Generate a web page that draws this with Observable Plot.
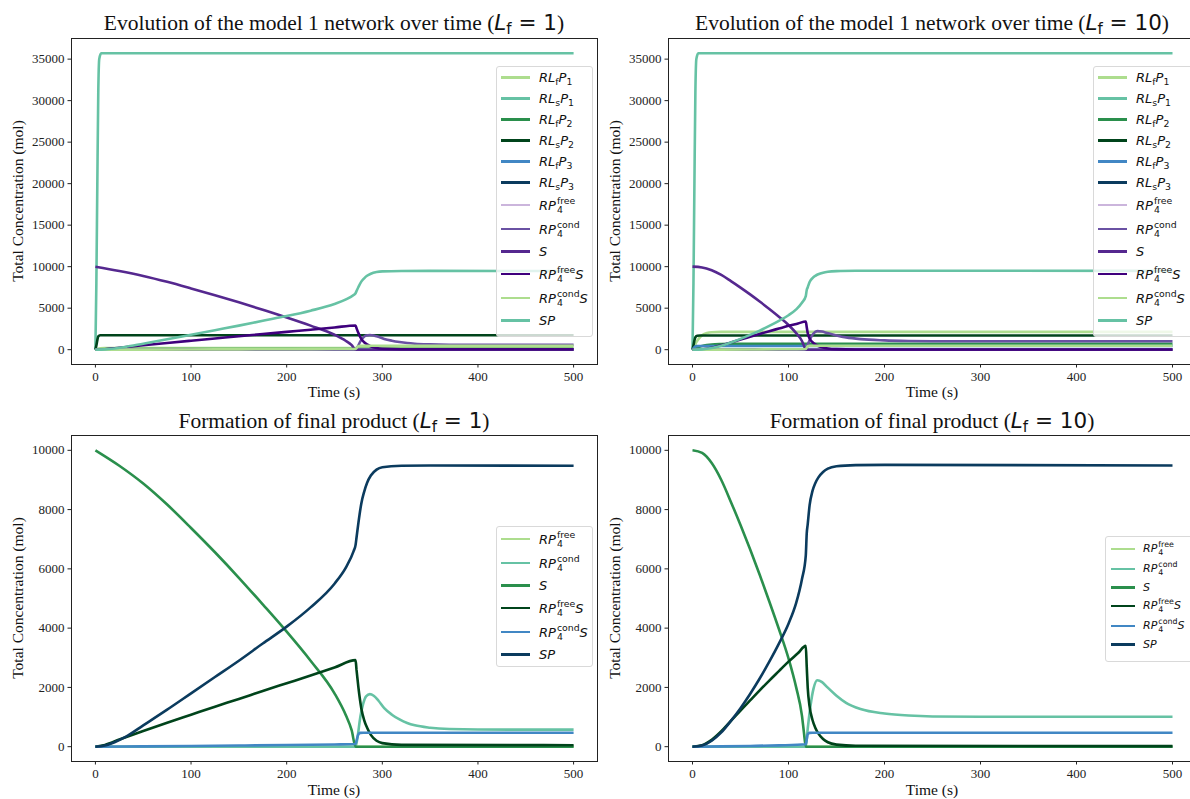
<!DOCTYPE html>
<html><head><meta charset="utf-8">
<script src="https://cdn.jsdelivr.net/npm/d3@7"></script>
<script src="https://cdn.jsdelivr.net/npm/@observablehq/plot@0.6"></script>
<style>
body{margin:0;background:#fff;overflow:hidden}
#root{position:relative;width:1190px;height:799px;overflow:hidden;background:#fff}
.panel{position:absolute;width:600px}
.panel svg{max-width:none !important}
.title{position:absolute;font-family:"Liberation Serif",serif;font-size:21.5px;white-space:nowrap;transform:translateX(-50%);line-height:1;color:#111}
.m{font-family:"DejaVu Sans",sans-serif}
.m sub{font-size:0.7em;vertical-align:-0.25em;line-height:0}
.xl{position:absolute;font-family:"Liberation Serif",serif;font-size:15.5px;transform:translate(-50%,-50%);white-space:nowrap;color:#111}
.yl{position:absolute;font-family:"Liberation Serif",serif;font-size:15.5px;transform:translate(-50%,-50%) rotate(-90deg);white-space:nowrap;color:#111}
.lg{position:absolute;border:1px solid #d9d9d9;border-radius:3px;background:rgba(255,255,255,0.8);font-family:"DejaVu Sans",sans-serif;color:#111;box-sizing:border-box}
.row{display:flex;align-items:center;white-space:nowrap}
.sw{flex:none}
.lg i{font-style:italic}
.lg sub{font-size:0.72em;vertical-align:-0.3em;line-height:0}
.ss{display:inline-flex;flex-direction:column;align-items:flex-start;font-size:0.72em;line-height:1;vertical-align:0.62em;margin-left:1px}
</style>
</head><body><div id="root"></div>
<script>
// ---------- axis ticks ----------
const xTicks = [0, 100, 200, 300, 400, 500];
const yTicksTop = [0, 5000, 10000, 15000, 20000, 25000, 30000, 35000];
const yTicksBottom = [0, 2000, 4000, 6000, 8000, 10000];

// ---------- colours ----------
const colorsTop = ["#addd8e","#66c2a4","#2a8f4c","#00441b","#4187c4","#0b3b5e","#cbb5dc","#6a51a3","#55288f","#3f007d","#addd8e","#66c2a4"];
const colorsBottom = ["#addd8e","#66c2a4","#2a8f4c","#00441b","#4187c4","#0b3b5e"];

// ---------- legend labels ----------
const labelsTop = [
  '<i>RL</i><sub>f</sub><i>P</i><sub>1</sub>',
  '<i>RL</i><sub>s</sub><i>P</i><sub>1</sub>',
  '<i>RL</i><sub>f</sub><i>P</i><sub>2</sub>',
  '<i>RL</i><sub>s</sub><i>P</i><sub>2</sub>',
  '<i>RL</i><sub>f</sub><i>P</i><sub>3</sub>',
  '<i>RL</i><sub>s</sub><i>P</i><sub>3</sub>',
  '<i>RP</i><span class="ss"><span>free</span><span>4</span></span>',
  '<i>RP</i><span class="ss"><span>cond</span><span>4</span></span>',
  '<i>S</i>',
  '<i>RP</i><span class="ss"><span>free</span><span>4</span></span><i>S</i>',
  '<i>RP</i><span class="ss"><span>cond</span><span>4</span></span><i>S</i>',
  '<i>SP</i>'
];
const tallTop = [0,0,0,0,0,0,1,1,0,1,1,0];
const labelsBottom = labelsTop.slice(6);
const tallBottom = [1,1,0,1,1,0];

// ---------- data, L_f = 1 : [time (s), total concentration (mol)] ----------
const RLfP1_lf1 = [[0,0],[2,100],[5,180],[10,200],[500,200]];
const RLsP1_lf1 = [[0,0],[1,8000],[2,20000],[3,31000],[4,35000],[6,35700],[500,35700]];
const RLfP2_lf1 = [[0,0],[5,40],[15,65],[30,70],[500,70]];
const RLsP2_lf1 = [[0,0],[1,500],[2,1150],[3,1600],[5,1730],[8,1740],[500,1740]];
const RLfP3_lf1 = [[0,0],[3,40],[6,45],[500,45]];
const RLsP3_lf1 = [[0,0],[5,15],[500,15]];
const RP4free_lf1 = [[0,0],[500,0]];
const RP4cond_lf1 = [[0,0],[272,0],[274,300],[277,1000],[280,1450],[283,1700],[287,1775],[291,1720],[296,1550],[302,1300],[310,1080],[318,920],[326,800],[334,720],[350,640],[370,595],[400,578],[500,575]];
const S_lf1 = [[0,10000],[25,9480],[50,8880],[75,8170],[100,7380],[125,6560],[150,5700],[175,4800],[200,3880],[225,2900],[250,1800],[262,1050],[268,550],[272,0],[500,0]];
const RP4freeS_lf1 = [[0,0],[10,60],[25,240],[50,530],[75,810],[100,1080],[125,1350],[150,1610],[175,1880],[200,2140],[225,2400],[250,2670],[272,2920],[273,2600],[275,2000],[278,1300],[281,900],[284,650],[288,400],[294,200],[300,120],[320,60],[500,50]];
const RP4condS_lf1 = [[0,0],[50,10],[100,25],[150,40],[200,55],[250,75],[272,90],[273,200],[275,420],[277,465],[280,470],[500,470]];
const SP_lf1 = [[0,0],[10,40],[20,150],[31,320],[50,720],[75,1250],[100,1800],[125,2350],[150,2900],[175,3480],[200,4050],[225,4700],[250,5500],[262,6050],[270,6600],[272,6800],[273,7050],[275,7550],[278,8200],[281,8600],[284,8900],[288,9150],[294,9350],[300,9430],[320,9480],[350,9490],[500,9480]];

// ---------- data, L_f = 10 ----------
const RLfP1_lf10 = [[0,0],[2,400],[4,900],[7,1400],[10,1750],[15,2000],[20,2100],[30,2150],[500,2150]];
const RLsP1_lf10 = [[0,0],[1,8000],[2,20000],[3,31000],[4,35000],[6,35700],[500,35700]];
const RLfP2_lf10 = [[0,0],[3,150],[6,300],[10,450],[15,560],[20,630],[30,680],[40,700],[500,700]];
const RLsP2_lf10 = [[0,0],[1,500],[2,1100],[3,1500],[5,1680],[8,1700],[500,1700]];
const RLfP3_lf10 = [[0,0],[2,300],[4,430],[6,450],[500,450]];
const RLsP3_lf10 = [[0,0],[5,20],[500,20]];
const RP4free_lf10 = [[0,0],[500,0]];
const RP4cond_lf10 = [[0,0],[118,0],[120,600],[123,1400],[126,1950],[130,2240],[135,2180],[140,2020],[150,1720],[160,1480],[175,1270],[200,1120],[225,1050],[250,1020],[300,1010],[500,1010]];
const S_lf10 = [[0,10000],[10,9910],[20,9570],[30,9000],[40,8260],[50,7480],[60,6660],[70,5800],[80,4900],[90,3970],[100,2980],[108,2000],[114,1050],[116,500],[118,0],[500,0]];
const RP4freeS_lf10 = [[0,0],[10,50],[20,230],[30,520],[40,870],[50,1220],[60,1560],[70,1900],[80,2230],[90,2550],[100,2870],[110,3160],[118,3400],[119,2700],[120,2000],[122,1350],[125,900],[128,630],[131,450],[136,260],[141,150],[150,70],[170,30],[500,20]];
const RP4condS_lf10 = [[0,0],[30,10],[60,25],[90,45],[118,80],[119,250],[120,420],[122,465],[125,470],[500,470]];
const SP_lf10 = [[0,0],[10,40],[20,200],[30,480],[40,870],[50,1300],[60,1780],[70,2300],[80,2870],[90,3480],[100,4150],[108,4850],[114,5650],[118,6450],[119,7200],[120,7500],[122,8150],[125,8630],[128,8900],[131,9080],[136,9270],[141,9380],[150,9460],[170,9500],[200,9510],[500,9490]];

const topLf1 = [RLfP1_lf1,RLsP1_lf1,RLfP2_lf1,RLsP2_lf1,RLfP3_lf1,RLsP3_lf1,RP4free_lf1,RP4cond_lf1,S_lf1,RP4freeS_lf1,RP4condS_lf1,SP_lf1];
const topLf10 = [RLfP1_lf10,RLsP1_lf10,RLfP2_lf10,RLsP2_lf10,RLfP3_lf10,RLsP3_lf10,RP4free_lf10,RP4cond_lf10,S_lf10,RP4freeS_lf10,RP4condS_lf10,SP_lf10];
const botLf1 = [RP4free_lf1,RP4cond_lf1,S_lf1,RP4freeS_lf1,RP4condS_lf1,SP_lf1];
const botLf10 = [RP4free_lf10,RP4cond_lf10,S_lf10,RP4freeS_lf10,RP4condS_lf10,SP_lf10];

const root = document.getElementById("root");

function panel(o) {
  const marks = [];
  o.series.forEach((data, i) => {
    marks.push(Plot.line(data, {x: d => d[0], y: d => d[1], stroke: o.colors[i], strokeWidth: 2.6, curve: "monotone-x", strokeLinejoin: "round", strokeLinecap: "butt"}));
  });
  marks.push(Plot.axisX({ticks: xTicks, tickSize: 3.5, tickPadding: 3.5, label: null, tickFormat: d3.format("d"), fontSize: 13}));
  marks.push(Plot.axisY({ticks: o.yTicks, tickSize: 3.5, tickPadding: 3.5, label: null, tickFormat: d3.format("d"), fontSize: 13}));
  marks.push(Plot.frame({stroke: "#222", strokeWidth: 1}));
  const svg = Plot.plot({
    width: o.width, height: o.height,
    marginTop: o.mt, marginBottom: o.mb, marginLeft: o.ml, marginRight: o.mr,
    x: {domain: [-25, 525]},
    y: {domain: o.yDomain},
    style: {fontFamily: "'Liberation Serif', serif", fontSize: "13px", color: "#222", background: "transparent", overflow: "visible", maxWidth: "none"},
    marks
  });
  svg.style.maxWidth = "none";
  svg.setAttribute("width", o.width);
  const wrap = document.createElement("div");
  wrap.className = "panel";
  wrap.style.left = o.left + "px";
  wrap.style.top = o.top + "px";
  wrap.style.width = o.width + "px";
  wrap.appendChild(svg);
  root.appendChild(wrap);
}

function addText(cls, html, x, y) {
  const d = document.createElement("div");
  d.className = cls;
  d.innerHTML = html;
  d.style.left = x + "px";
  d.style.top = y + "px";
  root.appendChild(d);
}

function legend(o) {
  const d = document.createElement("div");
  d.className = "lg";
  Object.assign(d.style, {left: o.left + "px", top: o.top + "px", width: o.width + "px", height: o.height + "px", fontSize: o.fontSize + "px", paddingTop: o.padTop + "px", paddingLeft: o.padLeft + "px"});
  o.labels.forEach((lab, i) => {
    const r = document.createElement("div");
    r.className = "row";
    r.style.height = (o.tall[i] ? o.tallH : o.rowH) + "px";
    r.innerHTML = `<span class="sw" style="width:${o.swW}px;height:2.6px;background:${o.colors[i]};margin-right:${o.gap}px"></span><span>${lab}</span>`;
    d.appendChild(r);
  });
  root.appendChild(d);
}

// panels
panel({left: 0, top: 0, width: 600, height: 400, mt: 38, mb: 36, ml: 71, mr: 3, yDomain: [-1785, 37485], yTicks: yTicksTop, series: topLf1, colors: colorsTop});
panel({left: 600, top: 0, width: 600, height: 400, mt: 38, mb: 36, ml: 68, mr: 4, yDomain: [-1785, 37485], yTicks: yTicksTop, series: topLf10, colors: colorsTop});
panel({left: 0, top: 400, width: 600, height: 399, mt: 35, mb: 38, ml: 71, mr: 3, yDomain: [-500, 10500], yTicks: yTicksBottom, series: botLf1, colors: colorsBottom});
panel({left: 600, top: 400, width: 600, height: 399, mt: 35, mb: 38, ml: 68, mr: 4, yDomain: [-500, 10500], yTicks: yTicksBottom, series: botLf10, colors: colorsBottom});

// titles
const lf = v => `(<span class="m"><i>L</i><sub>f</sub> = ${v}</span>)`;
addText("title", "Evolution of the model 1 network over time " + lf(1), 334, 12);
addText("title", "Evolution of the model 1 network over time " + lf(10), 932, 12);
addText("title", "Formation of final product " + lf(1), 334, 410);
addText("title", "Formation of final product " + lf(10), 932, 410);

// axis labels
addText("xl", "Time (s)", 334, 392);
addText("xl", "Time (s)", 932, 392);
addText("xl", "Time (s)", 334, 790);
addText("xl", "Time (s)", 932, 790);
addText("yl", "Total Concentration (mol)", 18, 201);
addText("yl", "Total Concentration (mol)", 615, 201);
addText("yl", "Total Concentration (mol)", 18, 598);
addText("yl", "Total Concentration (mol)", 615, 598);

// legends
legend({left: 496, top: 66, width: 97, height: 271, fontSize: 13, padTop: 0, padLeft: 4, rowH: 21, tallH: 24, swW: 29, gap: 9, labels: labelsTop, tall: tallTop, colors: colorsTop});
legend({left: 1093, top: 66, width: 100, height: 271, fontSize: 13, padTop: 0, padLeft: 4, rowH: 21, tallH: 24, swW: 29, gap: 9, labels: labelsTop, tall: tallTop, colors: colorsTop});
legend({left: 496, top: 526, width: 97, height: 141, fontSize: 13, padTop: 0, padLeft: 4, rowH: 21, tallH: 24, swW: 29, gap: 9, labels: labelsBottom, tall: tallBottom, colors: colorsBottom});
legend({left: 1105, top: 536, width: 90, height: 126, fontSize: 11, padTop: 2, padLeft: 5, rowH: 17, tallH: 20, swW: 24, gap: 8, labels: labelsBottom, tall: tallBottom, colors: colorsBottom});
</script></body></html>
